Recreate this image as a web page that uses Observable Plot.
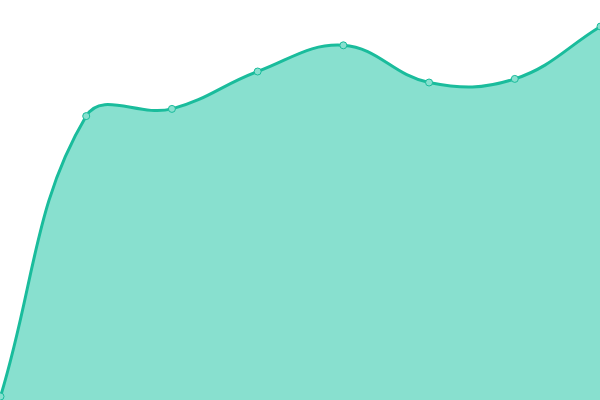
<!DOCTYPE html>
<html>
<head>
<meta charset="utf-8">
<script src="https://cdn.jsdelivr.net/npm/d3@7"></script>
<script src="https://cdn.jsdelivr.net/npm/@observablehq/plot@0.6"></script>
<style>
  html, body { margin: 0; padding: 0; background: #fff; }
  svg { display: block; }
</style>
</head>
<body>
<div id="chart"></div>
<script>
const labels = ["1", "2", "3", "4", "5", "6", "7", "8"];
const values = [1, 71.1, 72.9, 82.25, 88.8, 79.5, 80.4, 93.5];

const data = labels.map((l, i) => ({i, label: l, value: values[i]}));

// Distance-weighted spline curve (tension 0.4) as a d3-style curve factory
function splineCurve(context) {
  const t = 0.4;
  let pts = [], lineState = NaN;
  return {
    areaStart() { lineState = 0; },
    areaEnd() { lineState = NaN; },
    lineStart() { pts = []; },
    point(x, y) { pts.push([+x, +y]); },
    lineEnd() {
      const n = pts.length;
      if (!n) return;
      const cps = pts.map((cur, i) => {
        const prev = pts[i - 1] || cur, next = pts[i + 1] || cur;
        const d01 = Math.hypot(cur[0] - prev[0], cur[1] - prev[1]);
        const d12 = Math.hypot(next[0] - cur[0], next[1] - cur[1]);
        let s01 = d01 / (d01 + d12), s12 = d12 / (d01 + d12);
        s01 = isNaN(s01) ? 0 : s01; s12 = isNaN(s12) ? 0 : s12;
        const fa = t * s01, fb = t * s12;
        return {
          p: [cur[0] - fa * (next[0] - prev[0]), cur[1] - fa * (next[1] - prev[1])],
          n: [cur[0] + fb * (next[0] - prev[0]), cur[1] + fb * (next[1] - prev[1])]
        };
      });
      if (lineState) context.lineTo(pts[0][0], pts[0][1]);
      else context.moveTo(pts[0][0], pts[0][1]);
      for (let i = 1; i < n; i++) {
        context.bezierCurveTo(cps[i - 1].n[0], cps[i - 1].n[1], cps[i].p[0], cps[i].p[1], pts[i][0], pts[i][1]);
      }
      if (lineState === 0) lineState = 1;
      if (lineState !== 1 || n === 1) {}
      if (lineState === 1 && false) context.closePath();
    }
  };
}

const chart = Plot.plot({
  width: 600,
  height: 400,
  margin: 0,
  x: {domain: [0, labels.length - 1], axis: null},
  y: {domain: [0, 100], axis: null},
  marks: [
    Plot.areaY(data, {x: "i", y: "value", curve: splineCurve, fill: "#88e0cf"}),
    Plot.lineY(data, {x: "i", y: "value", curve: splineCurve, stroke: "#1abc9c", strokeWidth: 3}),
    Plot.dot(data, {x: "i", y: "value", r: 3.5, fill: "#88e0cf", stroke: "#1abc9c", strokeWidth: 1})
  ]
});
document.getElementById("chart").appendChild(chart);
</script>
</body>
</html>
